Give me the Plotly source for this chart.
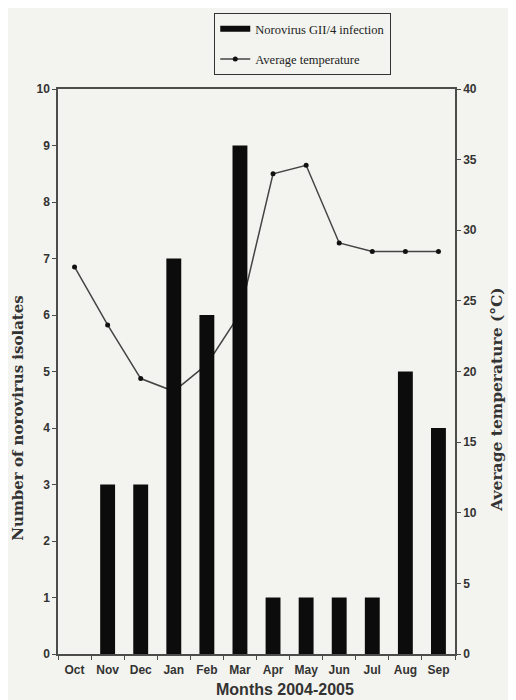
import plotly.graph_objects as go

months = ["Oct", "Nov", "Dec", "Jan", "Feb", "Mar", "Apr", "May", "Jun", "Jul", "Aug", "Sep"]
isolates = [0, 3, 3, 7, 6, 9, 1, 1, 1, 1, 5, 4]
avg_temp = [27.4, 23.3, 19.5, 18.6, 20.5, 24.1, 34.0, 34.6, 29.1, 28.5, 28.5, 28.5]
temp_ticks = [0, 5, 10, 15, 20, 25, 30, 35, 40]
count_ticks = list(range(0, 11))

BG = "#f3f4ef"
AX = "#4a4d4a"
TXT = "#333333"
SANS = "Arial, Liberation Sans, sans-serif"
SERIF = "Liberation Serif, Times New Roman, serif"
SERIF_WIDE = "DejaVu Serif, serif"

fig = go.Figure()
fig.add_trace(go.Bar(
    x=months, y=isolates, name="Norovirus GII/4 infection",
    marker=dict(color="#0c0c0c", line=dict(width=0)),
    width=0.45, xaxis="x", yaxis="y2", showlegend=False,
))
# legend entry drawn as a thick bar-like line (like the original key)
fig.add_trace(go.Scatter(
    x=[None], y=[None], name="Norovirus GII/4 infection", mode="lines",
    line=dict(color="#0c0c0c", width=6), legendgroup="a",
    xaxis="x", yaxis="y",
))
fig.add_trace(go.Scatter(
    x=months, y=avg_temp, name="Average temperature",
    mode="lines+markers", legendgroup="b",
    line=dict(color="#444444", width=1.5),
    marker=dict(color="#111111", size=5),
    xaxis="x", yaxis="y",
))

common_x = dict(type="category", categoryorder="array", categoryarray=months,
                range=[-0.5, 11.5], tickson="boundaries", ticklen=4,
                tickcolor=AX, tickwidth=1.2, showgrid=False, zeroline=False)
tickfont = dict(family=SANS, size=12, color=TXT, weight="bold")

fig.update_layout(
    width=508, height=692,
    paper_bgcolor=BG, plot_bgcolor=BG,
    margin=dict(l=50, r=61, t=81, b=46, autoexpand=False),
    showlegend=True,
    xaxis=dict(**common_x, ticks="outside", showline=True, mirror=True,
               linecolor=AX, linewidth=1.5, tickangle=0, automargin=False,
               ticklabelstandoff=4,
               tickfont=dict(family=SANS, size=12, color=TXT, weight="bold")),
    xaxis2=dict(**common_x, ticks="inside", overlaying="x", showline=False,
                showticklabels=False),
    yaxis=dict(range=[0, 40], side="right", tickvals=temp_ticks,
               ticks="outside", ticklen=4, tickcolor=AX, tickwidth=1.2,
               showline=True, linecolor=AX, linewidth=1.5, showgrid=False, zeroline=False,
               tickfont=tickfont, automargin=False),
    yaxis2=dict(range=[0, 10], side="left", overlaying="y", tickvals=count_ticks,
                ticks="outside", ticklen=4, tickcolor=AX, tickwidth=1.2,
                showline=True, linecolor=AX, linewidth=1.5, showgrid=False, zeroline=False,
                tickfont=tickfont, automargin=False),
    yaxis3=dict(range=[0, 10], side="left", overlaying="y", tickvals=count_ticks,
                ticks="inside", ticklen=4, tickcolor=AX, tickwidth=1.2,
                showticklabels=False, showgrid=False, zeroline=False),
    yaxis4=dict(range=[0, 40], side="right", overlaying="y", tickvals=temp_ticks,
                ticks="inside", ticklen=4, tickcolor=AX, tickwidth=1.2,
                showticklabels=False, showgrid=False, zeroline=False),
    legend=dict(x=0.616, xanchor="center", y=1.1345, yanchor="top",
                bordercolor="#333333", borderwidth=1.2, bgcolor="rgba(0,0,0,0)",
                font=dict(family=SERIF, size=12.5, color="#222222"),
                itemwidth=30, traceorder="grouped", tracegroupgap=11),
    annotations=[
        dict(text="<b>Months 2004-2005</b>", xref="paper", yref="paper",
             x=0.572, y=-0.062, showarrow=False, xanchor="center", yanchor="middle",
             font=dict(family=SANS, size=16, color=TXT)),
        dict(text="<b>Number of norovirus isolates</b>", xref="paper", yref="paper",
             x=-0.101, y=0.418, showarrow=False, textangle=-90,
             xanchor="center", yanchor="middle",
             font=dict(family=SERIF_WIDE, size=15, color=TXT)),
        dict(text="<b>Average temperature (°C)</b>", xref="paper", yref="paper",
             x=1.106, y=0.45, showarrow=False, textangle=-90,
             xanchor="center", yanchor="middle",
             font=dict(family=SERIF_WIDE, size=15.5, color=TXT)),
    ],
)

fig.write_html("out.html")
